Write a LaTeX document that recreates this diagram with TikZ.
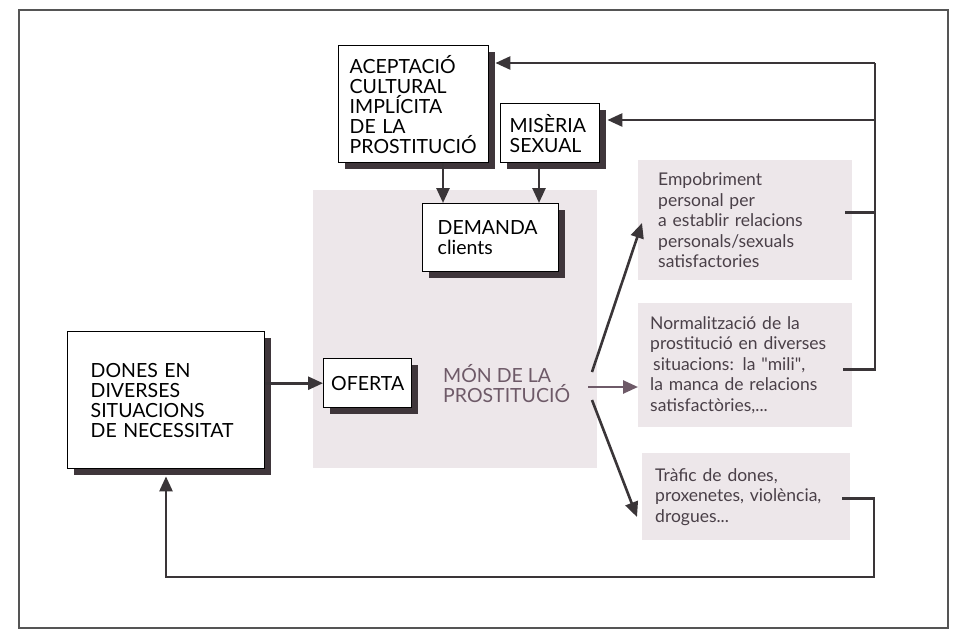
\documentclass[tikz,border=0pt]{standalone}
\usepackage{fontspec}
\setmainfont{Lato}
\newfontfamily\nqfont{Lato}[Ligatures=TeXOff]
\usetikzlibrary{shadows,arrows.meta,calc}
\definecolor{shadowc}{HTML}{3F363B}
\definecolor{linec}{HTML}{3A3538}
\definecolor{monc}{HTML}{6E5A68}
\definecolor{shadec}{HTML}{EDE7EA}
\definecolor{rtextc}{HTML}{4A4048}
\definecolor{framec}{HTML}{555555}
\tikzset{
  box/.style={draw=black, line width=1.4pt, fill=white, anchor=north west,
    align=left, inner ysep=0pt, font=\fontsize{19.5}{20}\selectfont,
    drop shadow={shadow xshift=6pt, shadow yshift=-6pt, fill=shadowc, opacity=1}},
  rbox/.style={fill=shadec, anchor=north west, align=left, inner ysep=0pt,
    text=rtextc, font=\fontsize{17.5}{20.5}\selectfont},
  conn/.style={draw=linec, line width=2.6pt},
  arr/.style={conn, -{Triangle[length=15pt,width=13pt]}},
}
\begin{document}
\begin{tikzpicture}[x=1pt,y=-1pt]
\useasboundingbox (0,0) rectangle (954,630);
\fill[white] (0,0) rectangle (954,630);
\draw[framec, line width=2pt] (19,10) rectangle (948,628);
% central shaded area
\fill[shadec] (313,190) rectangle (597,468);
% boxes
\node[box, text width=128pt, inner xsep=11pt, minimum height=117pt] (acc) at (338,45)
  {ACEPTACIÓ\\CULTURAL\\IMPLÍCITA\\DE LA\\PROSTITUCIÓ};
\node[box, text width=81pt, inner xsep=9pt, minimum height=59pt] (mis) at (500,103)
  {MISÈRIA\\SEXUAL};
\node[box, text width=106pt, inner xsep=15pt, minimum height=68pt] (dem) at (422,203)
  {DEMANDA\\clients};
\node[box, text width=151pt, inner xsep=23pt, minimum height=137pt] (dones) at (67,331)
  {DONES EN\\DIVERSES\\SITUACIONS\\DE NECESSITAT};
\node[box, align=center, minimum width=88pt, minimum height=49pt, inner xsep=0pt] (ofe) at (323,358)
  {OFERTA};
\node[anchor=north west, align=left, inner sep=0pt, text=monc,
  font=\fontsize{19.5}{20}\selectfont] (mon) at (443,364) {MÓN DE LA\\PROSTITUCIÓ};
% right boxes
\node[rbox, text width=174pt, inner xsep=20pt, minimum height=120pt] (emp) at (638,160)
  {Empobriment\\personal per\\a establir relacions\\personals/sexuals\\satisfactories};
\node[rbox, text width=190pt, inner xsep=12pt, minimum height=124pt] (norm) at (638,303)
  {Normalització de la\\prostitució en diverses\\\hspace{3pt}situacions: la {\nqfont"}mili{\nqfont"},\\la manca de relacions\\satisfactòries,...};
\node[rbox, text width=182pt, inner xsep=13pt, minimum height=87pt] (traf) at (642,453)
  {Tràfic de dones,\\proxenetes, violència,\\drogues...};
% helper coordinates
\coordinate (xa) at (443,0);
\coordinate (xm) at (539,0);
\coordinate (c1) at (875,63);
\coordinate (c2) at (875,120);
\coordinate (c3) at (874,577);
\coordinate (c4) at (166,577);
\coordinate (s1) at (592,372);
\coordinate (s2) at (588,387);
\coordinate (s3) at (592,400);
\coordinate (t1) at (642,223);
\coordinate (t3) at (637,517);
% connectors
\draw[arr] (acc.south -| xa) -- (dem.north -| xa);
\draw[arr] (mis.south -| xm) -- (dem.north -| xm);
\draw[arr] (ofe.west -| dones.east) -- (ofe.west);
\draw[arr] (s1) -- (t1);
\draw[arr, draw=monc, fill=monc] (s2) -- (norm.west |- s2);
\draw[arr] (s3) -- (t3);
\draw[conn] ([xshift=-7pt,yshift=8pt]emp.east) -| (c1);
\draw[conn] ([xshift=-9pt,yshift=-4pt]norm.east) -| (c2);
\draw[arr] (c1) -- ([xshift=6pt]acc.east |- c1);
\draw[arr] (c2) -- ([xshift=7pt]mis.east |- c2);
\draw[arr] ([xshift=-8pt,yshift=-2pt]traf.east) -| (c3) -- (c4) -- ([yshift=-7pt]dones.south -| c4);
\end{tikzpicture}
\end{document}
